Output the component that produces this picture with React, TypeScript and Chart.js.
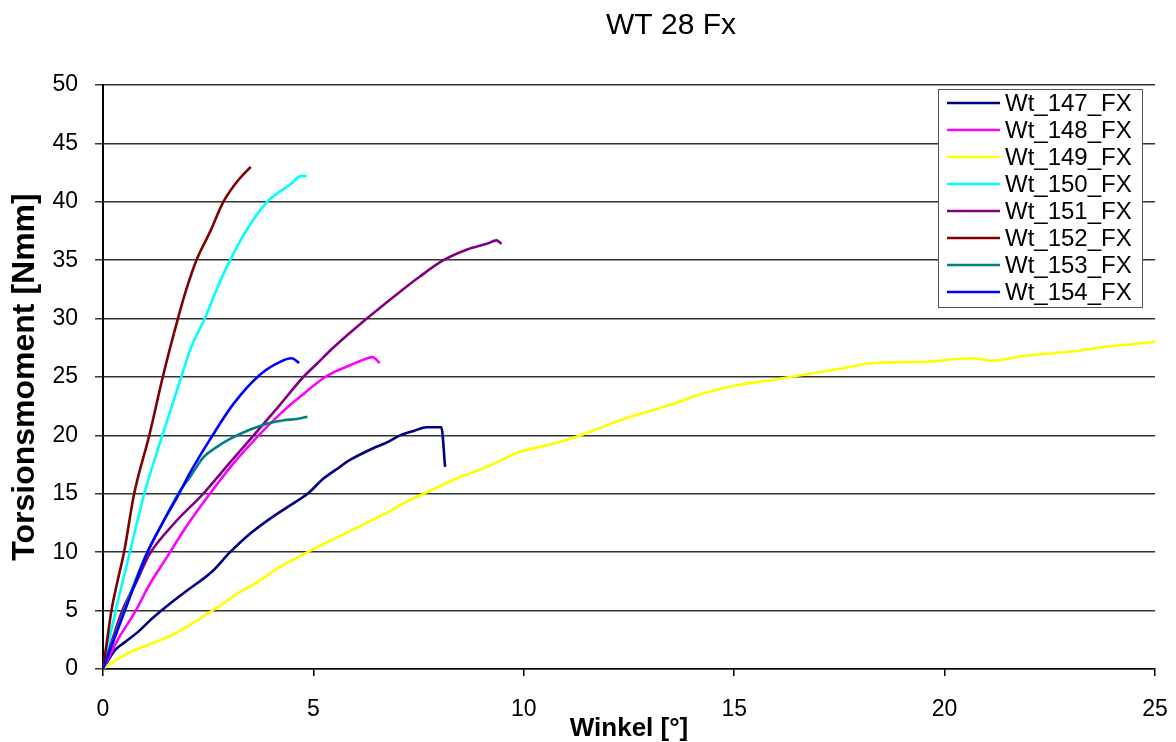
import React, { useEffect, useRef } from "react";
import { Chart, registerables } from "chart.js";

Chart.register(...registerables);

const chartTitle = "WT 28 Fx";
const xAxisTitle = "Winkel [°]";
const yAxisTitle = "Torsionsmoment [Nmm]";

const seriesNames = [
  "Wt_147_FX",
  "Wt_148_FX",
  "Wt_149_FX",
  "Wt_150_FX",
  "Wt_151_FX",
  "Wt_152_FX",
  "Wt_153_FX",
  "Wt_154_FX",
];
const seriesColors = [
  "#000080",
  "#FF00FF",
  "#FFFF00",
  "#00FFFF",
  "#800080",
  "#800000",
  "#008080",
  "#0000FF",
];

const xMin = 0;
const xMax = 25;
const xStep = 5;
const yMin = 0;
const yMax = 50;
const yStep = 5;

type Pt = [number, number];

const wt147: Pt[] = [
  [0, 0], [0.28, 1.6], [0.52, 2.3], [0.84, 3.2], [1.1, 4.1], [1.39, 5.0],
  [1.7, 5.9], [2.03, 6.8], [2.58, 8.3], [3.02, 10.0], [3.5, 11.6], [3.98, 12.9],
  [4.4, 13.9], [4.86, 15.0], [5.24, 16.3], [5.55, 17.1], [5.87, 17.9], [6.42, 18.9],
  [6.75, 19.4], [7.06, 20.0], [7.4, 20.4], [7.69, 20.7], [8.04, 20.7], [8.13, 17.3],
];
const wt148: Pt[] = [
  [0, 0], [0.35, 2.5], [0.78, 5.0], [1.1, 7.2], [1.47, 9.3], [2.0, 12.3],
  [2.54, 15.0], [3.1, 17.6], [3.7, 20.0], [4.2, 21.8], [4.68, 23.3], [5.28, 25.0],
  [5.6, 25.6], [5.87, 26.0], [6.2, 26.5], [6.4, 26.7], [6.58, 26.2],
];
const wt149: Pt[] = [
  [0, 0], [0.2, 0.5], [0.52, 1.2], [0.95, 1.9], [1.39, 2.5], [1.8, 3.2],
  [2.18, 4.05], [2.62, 5.05], [3.26, 6.6], [3.7, 7.5], [4.14, 8.6], [4.65, 9.6],
  [5.18, 10.6], [5.7, 11.5], [6.2, 12.4], [6.7, 13.3], [7.2, 14.3], [7.8, 15.3],
  [8.33, 16.2], [9.12, 17.3], [9.91, 18.6], [10.6, 19.2], [11.34, 20.0], [12.29, 21.3],
  [13.47, 22.6], [14.27, 23.6], [15.06, 24.3], [15.85, 24.7], [16.64, 25.2], [17.51, 25.7],
  [18.31, 26.2], [19.5, 26.3], [20.68, 26.6], [21.16, 26.4], [21.87, 26.8], [23.06, 27.2],
  [23.85, 27.6], [25.0, 28.0],
];
const wt150: Pt[] = [
  [0, 0], [0.3, 5.0], [0.64, 10.0], [0.98, 15.0], [1.41, 20.0], [1.86, 25.0],
  [2.1, 27.6], [2.42, 30.0], [2.7, 32.5], [3.02, 35.0], [3.45, 37.8], [3.9, 40.0],
  [4.14, 40.7], [4.46, 41.5], [4.7, 42.2], [4.84, 42.2],
];
const wt151: Pt[] = [
  [0, 0], [0.46, 5.0], [0.8, 7.5], [1.1, 9.8], [1.7, 12.5], [2.38, 15.0],
  [3.0, 17.6], [3.58, 20.0], [4.2, 22.6], [4.76, 25.0], [5.1, 26.2], [5.47, 27.5],
  [6.27, 30.0], [7.06, 32.3], [7.53, 33.6], [8.09, 35.0], [8.64, 35.9], [9.12, 36.4],
  [9.35, 36.7], [9.47, 36.4],
];
const wt152: Pt[] = [
  [0, 0], [0.1, 2.5], [0.2, 5.0], [0.35, 7.6], [0.5, 10.0], [0.74, 15.0],
  [1.1, 20.0], [1.42, 25.0], [1.78, 30.0], [1.98, 32.5], [2.22, 35.0], [2.54, 37.4],
  [2.86, 40.0], [3.18, 41.7], [3.51, 43.0],
];
const wt153: Pt[] = [
  [0, 0], [0.5, 5.0], [1.0, 9.6], [1.4, 12.4], [1.82, 15.2], [2.06, 16.4],
  [2.38, 18.1], [2.7, 19.0], [3.02, 19.7], [3.5, 20.5], [3.9, 21.0], [4.3, 21.3],
  [4.6, 21.4], [4.86, 21.6],
];
const wt154: Pt[] = [
  [0, 0], [0.52, 5.0], [1.06, 10.0], [1.4, 12.4], [1.76, 14.7], [2.1, 17.0],
  [2.5, 19.4], [3.1, 22.7], [3.73, 25.2], [4.21, 26.3], [4.48, 26.6], [4.66, 26.2],
];

const seriesData: Pt[][] = [wt147, wt148, wt149, wt150, wt151, wt152, wt153, wt154];

const FONT = "'Liberation Sans', Arial, sans-serif";

const overlayPlugin = {
  id: "overlayTitleLegend",
  afterDraw(chart: any) {
    const { ctx, chartArea } = chart;
    ctx.save();
    // Title
    ctx.font = `30px ${FONT}`;
    ctx.fillStyle = "#000";
    ctx.textAlign = "center";
    ctx.textBaseline = "middle";
    ctx.fillText(chartTitle, chartArea.left + 568, 18);

    // Legend box
    const bw = 204;
    const bh = 218;
    const bx = chartArea.right - 217;
    const by = chartArea.top + 4;
    ctx.fillStyle = "#fff";
    ctx.fillRect(bx, by, bw, bh);
    ctx.strokeStyle = "#555";
    ctx.lineWidth = 1;
    ctx.strokeRect(bx + 0.5, by + 0.5, bw, bh);
    chart.data.datasets.forEach((ds: any, i: number) => {
      const cy = by + 14 + i * 27;
      ctx.strokeStyle = ds.borderColor;
      ctx.lineWidth = 2.5;
      ctx.beginPath();
      ctx.moveTo(bx + 9, cy);
      ctx.lineTo(bx + 62, cy);
      ctx.stroke();
      ctx.fillStyle = "#000";
      ctx.textAlign = "left";
      ctx.textBaseline = "middle";
      ctx.font = `24px ${FONT}`;
      ctx.fillText(ds.label, bx + 67, cy + 1);
    });
    ctx.restore();
  },
};

export default function App() {
  const canvasRef = useRef<HTMLCanvasElement | null>(null);

  useEffect(() => {
    if (!canvasRef.current) return;
    document.body.style.margin = "0";
    const datasets = seriesData.map((pts, i) => ({
      label: seriesNames[i],
      data: pts.map(([x, y]) => ({ x, y })),
      borderColor: seriesColors[i],
      backgroundColor: seriesColors[i],
      borderWidth: 2.6,
      pointRadius: 0,
      fill: false,
      cubicInterpolationMode: "monotone",
      order: seriesData.length - i,
    }));

    const chart = new Chart(canvasRef.current, {
      type: "line",
      data: { datasets },
      plugins: [overlayPlugin],
      options: {
        animation: false,
        responsive: true,
        maintainAspectRatio: false,
        layout: { padding: { top: 77, right: 13, left: 0, bottom: 0 } },
        plugins: {
          legend: { display: false },
          title: { display: false },
          tooltip: { enabled: false },
        },
        scales: {
          x: {
            type: "linear",
            min: xMin,
            max: xMax,
            afterFit: (s: any) => {
              s.height = 73;
              s.paddingLeft = 0;
              s.paddingRight = 0;
            },
            ticks: {
              stepSize: xStep,
              padding: 20,
              color: "#000",
              font: { family: FONT, size: 23 },
              maxRotation: 0,
            },
            grid: {
              drawOnChartArea: false,
              drawTicks: true,
              tickLength: 7,
              color: "#000",
              lineWidth: 1.5,
            },
            border: { display: true, color: "#000", width: 1.5 },
            title: {
              display: true,
              text: xAxisTitle,
              color: "#000",
              font: { family: FONT, size: 26, weight: "bold", lineHeight: 1 },
              padding: { top: 0, bottom: 0 },
            },
          },
          y: {
            type: "linear",
            min: yMin,
            max: yMax,
            afterFit: (s: any) => {
              s.width = 95;
              s.paddingTop = 0;
              s.paddingBottom = 0;
            },
            ticks: {
              stepSize: yStep,
              padding: 17,
              color: "#000",
              font: { family: FONT, size: 23 },
            },
            grid: {
              drawOnChartArea: true,
              drawTicks: true,
              tickLength: 8,
              color: "#333",
              lineWidth: 1.5,
            },
            border: { display: true, color: "#000", width: 2 },
            title: {
              display: true,
              text: yAxisTitle,
              color: "#000",
              font: { family: FONT, size: 32, weight: "bold", lineHeight: 1 },
              padding: { top: 1, bottom: 0 },
            },
          },
        },
      },
    } as any);

    return () => {
      chart.destroy();
    };
  }, []);

  return (
    <div
      style={{
        boxSizing: "border-box",
        width: 1176,
        height: 742,
        padding: "8px 8px 0 8px",
        overflow: "hidden",
      }}
    >
      <div style={{ position: "relative", width: 1160, height: 734 }}>
        <canvas ref={canvasRef} />
      </div>
    </div>
  );
}
